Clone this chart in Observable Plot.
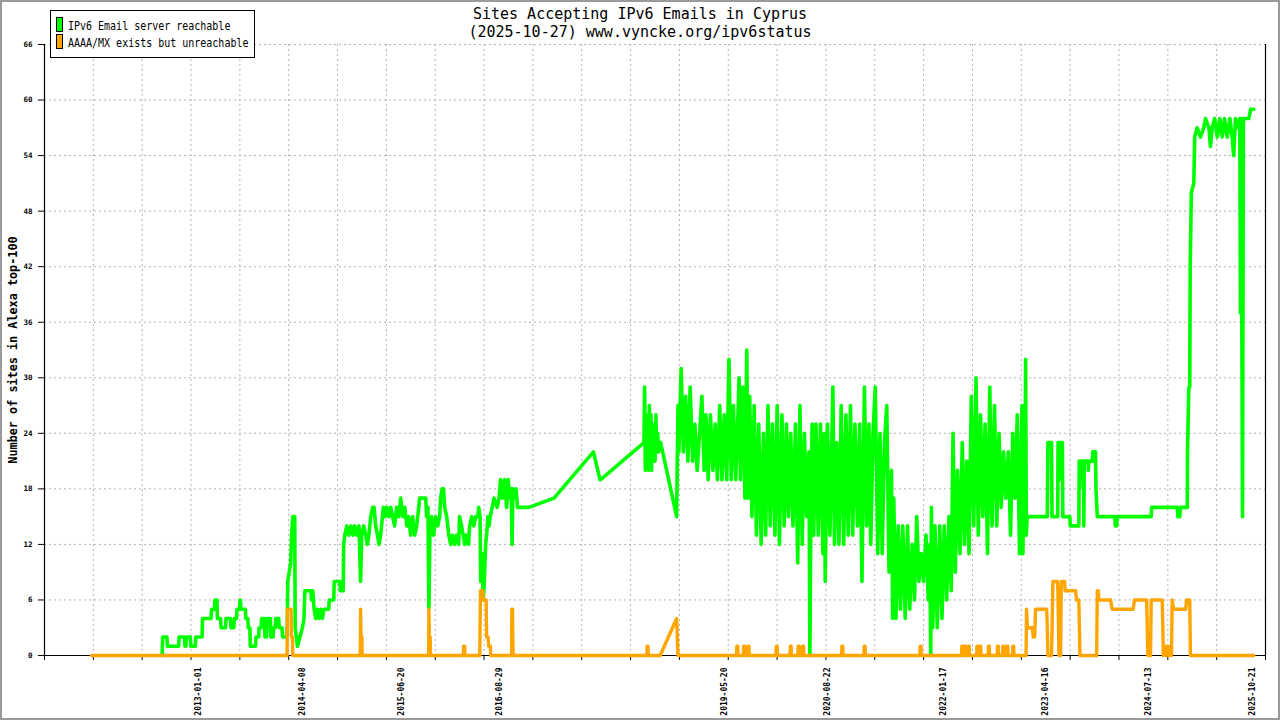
<!DOCTYPE html>
<html>
<head>
<meta charset="utf-8">
<script src="https://cdn.jsdelivr.net/npm/d3@7"></script>
<script src="https://cdn.jsdelivr.net/npm/@observablehq/plot@0.6"></script>
<style>
  body { margin: 0; background: #fff; }
  #wrap { position: relative; width: 1280px; height: 720px; overflow: hidden; background: #fff; }
  #overlay { position: absolute; left: 0; top: 0; }
  #frame { position: absolute; left: 0; top: 0; width: 1280px; height: 720px; box-sizing: border-box; border: 2px solid #9a9a9a; pointer-events: none; }
  .mono { font-family: "DejaVu Sans Mono", monospace; }
</style>
</head>
<body>
<div id="wrap">
  <div id="chart"></div>
  <svg id="overlay" width="1280" height="60" class="mono">
    <text x="640" y="18.5" text-anchor="middle" font-size="15">Sites Accepting IPv6 Emails in Cyprus</text>
    <text x="640" y="36.5" text-anchor="middle" font-size="15">(2025-10-27) www.vyncke.org/ipv6status</text>
    <rect x="50.5" y="10.5" width="204" height="47" fill="#fff" stroke="#000" stroke-width="1"></rect>
    <rect x="56.5" y="17.5" width="6" height="14" fill="#00ff00" stroke="#000" stroke-width="1"></rect>
    <rect x="56.5" y="34.5" width="6" height="14" fill="#ffa500" stroke="#000" stroke-width="1"></rect>
    <text transform="translate(68,30.3) scale(1,1.15)" font-size="10">IPv6 Email server reachable</text>
    <text transform="translate(68,47.3) scale(1,1.15)" font-size="10">AAAA/MX exists but unreachable</text>
  </svg>
  <div id="frame"></div>
</div>
<script>
// ---- Axis values ----
const xDomainDates = ["2011-02-17", "2025-12-16"];
const labelDates = ["2013-01-01","2014-04-08","2015-06-20","2016-08-29","2019-05-20","2020-08-22","2022-01-17","2023-04-16","2024-07-13","2025-10-21"];
const yTicks = [0, 6, 12, 18, 24, 30, 36, 42, 48, 54, 60, 66];
const tickIntervals = 25;

// ---- Series: IPv6 Email server reachable (green) ----
const greenEarly = [
["2012-07-23",0],["2012-07-25",2],["2012-08-13",2],["2012-08-15",1],["2012-10-04",1],["2012-10-06",2],["2012-10-30",2],["2012-11-01",1],["2012-11-05",1],["2012-11-07",2],["2012-11-25",2],["2012-11-27",1],["2012-12-17",1],["2012-12-19",2],["2013-01-16",2],["2013-01-18",4],["2013-02-25",4],["2013-02-27",5],["2013-03-12",5],["2013-03-14",6],["2013-03-23",6],["2013-03-25",4],["2013-04-08",4],["2013-04-10",3],["2013-04-30",3],["2013-05-02",4],["2013-05-22",4],["2013-05-24",3],["2013-06-06",3],["2013-06-08",4],["2013-06-18",4],["2013-06-20",5],["2013-07-01",5],["2013-07-03",6],["2013-07-05",6],["2013-07-07",5],["2013-07-27",5],["2013-07-29",4],["2013-08-07",4],["2013-08-09",3],["2013-08-16",3],["2013-08-18",1],["2013-09-10",1],["2013-09-12",2],["2013-09-24",2],["2013-09-26",3],["2013-10-05",3],["2013-10-07",4],["2013-10-20",4],["2013-10-22",2],["2013-10-29",2],["2013-10-31",4],["2013-11-15",4],["2013-11-17",2],["2013-11-27",2],["2013-11-29",3],["2013-12-07",3],["2013-12-09",4],["2013-12-22",4],["2013-12-24",3],["2014-01-06",3],["2014-01-08",2],["2014-01-28",2],["2014-01-31",8],["2014-02-13",10],["2014-02-17",13],["2014-02-22",15],["2014-03-03",15],["2014-03-05",3],["2014-03-15",1],["2014-03-26",2],["2014-04-06",3],["2014-04-13",4],["2014-04-17",7],["2014-05-13",7],["2014-05-17",6],["2014-05-22",7],["2014-05-28",5],["2014-06-04",4],["2014-06-12",5],["2014-06-19",4],["2014-06-26",5],["2014-07-04",4],["2014-07-10",5],["2014-08-01",5],["2014-08-03",6],["2014-08-23",6],["2014-08-25",8],["2014-09-19",8],["2014-09-21",7],["2014-10-04",7],["2014-10-06",12],["2014-10-11",13],["2014-10-20",14],["2014-10-29",13],["2014-11-07",14],["2014-11-16",13],["2014-11-24",14],["2014-12-03",13],["2014-12-13",14],["2014-12-20",8],["2014-12-25",13]
];
const greenMid = [
["2015-01-03",14],["2015-01-12",13],["2015-01-19",12],["2015-01-26",13],["2015-02-03",15],["2015-02-12",16],["2015-02-18",16],["2015-02-25",14],["2015-03-05",13],["2015-03-12",12],["2015-03-19",13],["2015-03-31",16],["2015-04-07",15],["2015-04-15",16],["2015-04-24",15],["2015-05-03",16],["2015-05-11",15],["2015-05-20",14],["2015-05-29",16],["2015-06-07",15],["2015-06-16",17],["2015-06-25",15],["2015-07-04",16],["2015-07-13",14],["2015-07-21",15],["2015-07-30",13],["2015-08-08",15],["2015-08-17",13],["2015-08-26",14],["2015-09-04",16],["2015-09-08",17],["2015-10-05",17],["2015-10-09",15],["2015-10-15",16],["2015-10-19",5],["2015-10-24",14],["2015-10-31",15],["2015-11-09",13],["2015-11-18",15],["2015-11-27",14],["2015-12-06",15],["2015-12-10",17],["2015-12-17",18],["2015-12-23",18],["2015-12-28",16],["2016-01-06",15],["2016-01-15",13],["2016-01-24",12],["2016-02-01",13],["2016-02-10",12],["2016-02-19",13],["2016-02-28",12],["2016-03-03",15],["2016-03-12",14],["2016-03-19",13],["2016-03-26",12],["2016-04-03",13],["2016-04-12",12],["2016-04-17",14],["2016-04-26",15],["2016-05-05",14],["2016-05-14",15],["2016-05-23",15],["2016-05-27",16],["2016-06-02",15],["2016-06-05",8],["2016-06-11",11],["2016-06-16",6],["2016-06-19",7],["2016-06-27",12],["2016-07-01",13],["2016-07-07",15],["2016-07-12",14],["2016-07-17",15],["2016-07-26",16],["2016-08-03",17],["2016-08-17",16],["2016-08-25",17],["2016-09-01",19],["2016-09-10",17],["2016-09-19",19],["2016-09-28",16],["2016-10-05",19],["2016-10-11",17],["2016-10-18",18],["2016-10-22",12],["2016-10-26",18],["2016-11-03",17],["2016-11-09",18],["2016-11-15",16]
];
const greenGap = [
["2017-01-05",16],["2017-04-26",17],["2017-10-18",22],["2017-11-16",19],["2017-11-19",19],["2018-05-30",23],["2018-06-02",29],["2018-06-05",20],["2018-06-09",26],["2018-06-12",21],["2018-06-16",25],["2018-06-19",20],["2018-06-23",27],["2018-06-26",21],["2018-06-30",26],["2018-07-03",20],["2018-07-07",25],["2018-07-10",22],["2018-07-14",24],["2018-07-18",21],["2018-07-22",26],["2018-07-26",22],["2018-07-30",24],["2018-08-03",22],["2018-08-12",23],["2018-10-22",15]
];
const greenNoise = [
["2018-10-28",27],["2018-11-01",22],["2018-11-11",31],["2018-11-21",22],["2018-12-01",28],["2018-12-11",21],["2018-12-21",29],
["2019-01-01",21],["2019-01-11",25],["2019-01-21",20],["2019-02-01",24],["2019-02-11",28],["2019-02-21",20],["2019-03-01",26],["2019-03-11",19],["2019-03-21",26],["2019-04-01",20],["2019-04-11",25],["2019-04-21",19],["2019-05-01",27],["2019-05-11",19],["2019-05-21",26],["2019-06-01",19],["2019-06-11",32],["2019-06-21",19],["2019-07-01",27],["2019-07-11",19],["2019-07-21",26],["2019-07-26",30],["2019-08-01",19],["2019-08-11",29],["2019-08-21",17],["2019-08-29",33],["2019-09-04",17],["2019-09-11",28],["2019-09-21",15],["2019-10-01",27],["2019-10-11",13],["2019-10-21",25],["2019-11-01",12],["2019-11-11",24],["2019-11-21",13],["2019-12-01",27],["2019-12-11",14],["2019-12-21",25],
["2020-01-01",13],["2020-01-11",27],["2020-01-21",12],["2020-02-01",26],["2020-02-11",14],["2020-02-21",25],["2020-03-01",15],["2020-03-11",24],["2020-03-21",14],["2020-04-01",25],["2020-04-11",10],["2020-04-21",27],["2020-05-01",12],["2020-05-11",24],["2020-05-21",15],["2020-05-31",22],["2020-06-04",0],["2020-06-08",14],["2020-06-14",25],["2020-06-21",13],["2020-07-01",25],["2020-07-11",13],["2020-07-21",25],["2020-08-01",11],["2020-08-07",24],["2020-08-11",8],["2020-08-21",25],["2020-09-01",13],["2020-09-11",25],["2020-09-14",29],["2020-09-21",12],["2020-10-01",23],["2020-10-11",12],["2020-10-21",27],["2020-11-01",12],["2020-11-11",26],["2020-11-21",13],["2020-12-01",27],["2020-12-11",13],["2020-12-21",25],
["2021-01-01",14],["2021-01-11",25],["2021-01-21",8],["2021-02-01",29],["2021-02-11",14],["2021-02-21",25],["2021-03-01",12],["2021-03-11",24],["2021-03-21",29],["2021-04-01",11],["2021-04-11",24],["2021-04-21",11],["2021-05-01",23],["2021-05-11",27],["2021-05-21",9],["2021-06-01",20],["2021-06-06",4],["2021-06-11",17],["2021-06-21",4],["2021-07-01",14],["2021-07-11",5],["2021-07-21",14],["2021-08-01",4],["2021-08-11",14],["2021-08-21",5],["2021-09-01",12],["2021-09-11",6],["2021-09-21",15],["2021-10-01",8],["2021-10-11",11],["2021-10-21",8],["2021-11-01",13],["2021-11-11",6],["2021-11-18",12],["2021-11-22",0],["2021-11-25",16],["2021-12-01",3],["2021-12-11",14],["2021-12-21",3],
["2022-01-01",14],["2022-01-11",4],["2022-01-21",14],["2022-02-01",6],["2022-02-11",15],["2022-02-21",7],["2022-03-01",24],["2022-03-11",9],["2022-03-21",20],["2022-04-01",11],["2022-04-11",23],["2022-04-21",12],["2022-05-01",21],["2022-05-11",11],["2022-05-21",28],["2022-06-01",14],["2022-06-11",30],["2022-06-21",13],["2022-07-01",26],["2022-07-11",15],["2022-07-21",25],["2022-08-01",11],["2022-08-11",29],["2022-08-21",14],["2022-09-01",27],["2022-09-11",14],["2022-09-21",24],["2022-10-01",16],["2022-10-11",22],["2022-10-21",17],["2022-11-01",22],["2022-11-11",13],["2022-11-21",24],["2022-12-01",17],["2022-12-11",26],["2022-12-21",11],
["2023-01-01",27],["2023-01-05",11],["2023-01-09",26],["2023-01-13",13],["2023-01-17",32],["2023-01-20",13],["2023-01-24",15]
];
const greenLate = [
["2023-04-23",15],["2023-04-26",23],["2023-05-12",23],["2023-05-14",15],["2023-06-08",15],["2023-06-10",23],["2023-06-19",23],["2023-06-20",19],["2023-06-21",23],["2023-06-29",23],["2023-07-01",15],["2023-08-01",15],["2023-08-03",14],["2023-09-10",14],["2023-09-12",21],["2023-09-14",18],["2023-09-17",21],["2023-10-01",21],["2023-10-02",14],["2023-10-04",21],["2023-10-21",21],["2023-10-22",20],["2023-10-25",21],["2023-11-09",21],["2023-11-11",22],["2023-11-23",22],["2023-11-25",18],["2023-12-01",15],["2024-02-17",15],["2024-02-19",14],["2024-02-25",14],["2024-02-27",15],["2024-07-27",15],["2024-07-29",16],["2024-11-20",16],["2024-11-22",15],["2024-12-01",15],["2024-12-03",16],["2025-01-03",16],["2025-01-04",22],["2025-01-10",29],["2025-01-14",29],["2025-01-16",42],["2025-01-21",50],["2025-02-01",51],["2025-02-05",56],["2025-02-16",57],["2025-03-03",56],["2025-03-17",57],["2025-03-25",58],["2025-04-09",57],["2025-04-16",55],["2025-04-24",57],["2025-05-04",58],["2025-05-16",56],["2025-05-27",58],["2025-06-07",56],["2025-06-17",58],["2025-06-29",56],["2025-07-11",58],["2025-07-21",56],["2025-07-28",54],["2025-08-05",58],["2025-08-15",57],["2025-08-24",58],["2025-08-27",37],["2025-08-30",58],["2025-09-05",15],["2025-09-09",58],["2025-10-03",58],["2025-10-11",59],["2025-10-25",59]
];

// ---- Series: AAAA/MX exists but unreachable (orange) ----
const orangeEarly = [
["2011-09-14",0],
["2014-01-28",0],["2014-01-29",5],["2014-02-15",5],["2014-02-16",2],["2014-02-21",2],["2014-02-22",0],
["2014-12-19",0],["2014-12-20",5],["2014-12-22",2],["2014-12-26",2],["2014-12-27",0],
["2015-10-18",0],["2015-10-19",5],["2015-10-21",2],["2015-10-25",2],["2015-10-26",0],
["2016-03-20",0],["2016-03-21",1],["2016-03-26",1],["2016-03-27",0],
["2016-06-01",0],["2016-06-02",3],["2016-06-04",7],["2016-06-14",7],["2016-06-16",6],["2016-06-29",6],["2016-07-01",2],["2016-07-08",2],["2016-07-10",1],["2016-07-18",1],["2016-07-19",0],
["2016-10-20",0],["2016-10-21",5],["2016-10-24",5],["2016-10-25",2],["2016-10-27",0],
["2018-06-12",0],["2018-06-13",1],["2018-06-17",1],["2018-06-18",0],
["2018-08-10",0],["2018-10-22",4],["2018-10-28",0]
];
const orangeBumps = [
["2019-07-15",0],["2019-07-16",1],["2019-07-20",1],["2019-07-21",0],
["2019-08-14",0],["2019-08-15",1],["2019-08-20",1],["2019-08-21",0],
["2019-09-02",0],["2019-09-03",1],["2019-09-08",1],["2019-09-09",0],
["2020-01-06",0],["2020-01-07",1],["2020-01-11",1],["2020-01-12",0],
["2020-03-08",0],["2020-03-09",1],["2020-03-13",1],["2020-03-14",0],
["2020-04-12",0],["2020-04-13",1],["2020-04-18",1],["2020-04-19",0],
["2020-05-01",0],["2020-05-02",1],["2020-05-07",1],["2020-05-08",0],
["2020-10-23",0],["2020-10-24",1],["2020-10-28",1],["2020-10-29",0],
["2021-01-30",0],["2021-01-31",1],["2021-02-04",1],["2021-02-05",0],
["2021-10-05",0],["2021-10-06",1],["2021-10-10",1],["2021-10-11",0],
["2022-04-08",0],["2022-04-09",1],["2022-04-14",1],["2022-04-15",0],["2022-04-21",0],["2022-04-22",1],["2022-04-27",1],["2022-04-28",0],
["2022-05-07",0],["2022-05-08",1],["2022-05-12",1],["2022-05-13",0],
["2022-06-14",0],["2022-06-15",1],["2022-06-20",1],["2022-06-21",0],["2022-06-27",0],["2022-06-28",1],["2022-07-02",1],["2022-07-03",0],
["2022-08-04",0],["2022-08-05",1],["2022-08-09",1],["2022-08-10",0],
["2022-09-13",0],["2022-09-14",1],["2022-09-18",1],["2022-09-19",0],
["2022-10-07",0],["2022-10-08",1],["2022-10-14",1],["2022-10-15",0],["2022-10-23",0],["2022-10-24",1],["2022-10-30",1],["2022-10-31",0],
["2022-11-20",0],["2022-11-21",1],["2022-11-25",1],["2022-11-26",0]
];
const orangeLate = [
["2023-01-19",0],["2023-01-21",5],["2023-01-25",3],["2023-02-16",3],["2023-02-20",2],["2023-02-26",2],["2023-03-02",5],["2023-04-20",5],["2023-04-23",3],["2023-04-26",0],["2023-05-12",0],["2023-05-15",4],["2023-05-18",8],["2023-06-07",8],["2023-06-09",7],["2023-06-14",0],["2023-06-21",0],["2023-06-24",8],["2023-07-09",8],["2023-07-11",7],["2023-08-27",7],["2023-08-31",6],["2023-09-10",6],["2023-09-15",0],["2023-11-28",0],["2023-12-01",7],["2023-12-05",7],["2023-12-08",6],["2024-01-29",6],["2024-02-05",5],["2024-05-08",5],["2024-05-14",6],["2024-07-07",6],["2024-07-12",0],["2024-07-24",0],["2024-07-27",6],["2024-09-14",6],["2024-09-19",0],["2024-09-24",1],["2024-10-01",0],["2024-10-07",1],["2024-10-14",0],["2024-10-21",1],["2024-10-25",0],["2024-10-28",6],["2024-11-04",5],["2024-12-27",5],["2024-12-31",6],["2025-01-14",6],["2025-01-17",0],["2025-10-25",0]
];

// ---- Build ----
const parse = d => ({date: new Date(d[0] + "T00:00:00Z"), value: d[1]});
const green = [...greenEarly, ...greenMid, ...greenGap, ...greenNoise, ...greenLate].map(parse);
const orange = [...orangeEarly, ...orangeBumps, ...orangeLate].map(parse);

const xDomain = xDomainDates.map(d => new Date(d + "T00:00:00Z"));
const span = xDomain[1] - xDomain[0];
const tickDates = d3.range(0, tickIntervals + 1).map(k => new Date(+xDomain[0] + k * span / tickIntervals));
const labels = labelDates.map(d => new Date(d + "T00:00:00Z"));

const gridStyle = {stroke: "#b4b4b4", strokeOpacity: 1, strokeDasharray: "2,3", strokeWidth: 1};

const chart = Plot.plot({
  width: 1280,
  height: 720,
  marginLeft: 44,
  marginRight: 15,
  marginTop: 44,
  marginBottom: 65,
  style: {fontFamily: "'DejaVu Sans Mono', monospace", fontSize: "8px", background: "#fff", color: "#000", overflow: "visible"},
  x: {type: "utc", domain: xDomain},
  y: {domain: [0, 66]},
  marks: [
    Plot.gridY({ticks: yTicks.filter(v => v > 0), ...gridStyle}),
    Plot.gridX({ticks: tickDates.slice(1, tickIntervals), ...gridStyle}),
    Plot.ruleY([0], {stroke: "#000", strokeWidth: 1.2}),
    Plot.ruleX([xDomain[0], xDomain[1]], {stroke: "#000", strokeWidth: 1.2}),
    Plot.axisY({ticks: yTicks, tickSize: 6, tickPadding: 6, fontSize: 7.5, fontWeight: "bold", label: null, tickFormat: d => String(d)}),
    Plot.axisX({ticks: tickDates, tickSize: 5, tickFormat: () => "", label: null}),
    Plot.axisX({ticks: labels, tickSize: 0, tickPadding: 12, tickRotate: -90, tickFormat: d3.utcFormat("%Y-%m-%d"), fontSize: 8, fontWeight: "bold", label: null}),
    Plot.line(green, {x: "date", y: "value", stroke: "#00ff00", strokeWidth: 3.6}),
    Plot.line(orange, {x: "date", y: "value", stroke: "#ffa500", strokeWidth: 3.4}),
    Plot.text(["Number of sites in Alexa top-100"], {text: d => d, frameAnchor: "left", dx: -31, rotate: -90, textAnchor: "middle", lineAnchor: "middle", fontSize: 11.8, fontWeight: "bold"})
  ]
});
document.getElementById("chart").appendChild(chart);
</script>
</body>
</html>
